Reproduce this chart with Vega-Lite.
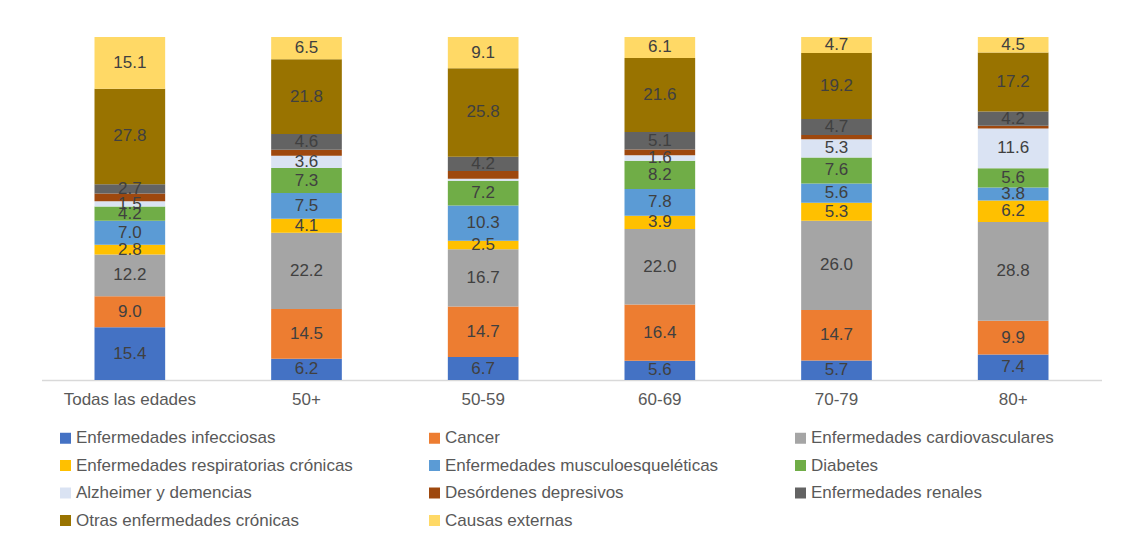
{
  "$schema": "https://vega.github.io/schema/vega-lite/v6.json",
  "width": 1060,
  "height": 343,
  "autosize": {"type": "none"},
  "padding": {"left": 41.5, "top": 37, "right": 31.5, "bottom": 173},
  "background": "white",
  "config": {"view": {"stroke": null}, "font": "Liberation Sans"},
  "data": {"values": [
    {"g": "Todas las edades", "s": "Enfermedades infecciosas", "v": 15.4},
    {"g": "Todas las edades", "s": "Cancer", "v": 9.0},
    {"g": "Todas las edades", "s": "Enfermedades cardiovasculares", "v": 12.2},
    {"g": "Todas las edades", "s": "Enfermedades respiratorias crónicas", "v": 2.8},
    {"g": "Todas las edades", "s": "Enfermedades musculoesqueléticas", "v": 7.0},
    {"g": "Todas las edades", "s": "Diabetes", "v": 4.2},
    {"g": "Todas las edades", "s": "Alzheimer y demencias", "v": 1.5},
    {"g": "Todas las edades", "s": "Desórdenes depresivos", "v": 2.3},
    {"g": "Todas las edades", "s": "Enfermedades renales", "v": 2.7},
    {"g": "Todas las edades", "s": "Otras enfermedades crónicas", "v": 27.8},
    {"g": "Todas las edades", "s": "Causas externas", "v": 15.1},
    {"g": "50+", "s": "Enfermedades infecciosas", "v": 6.2},
    {"g": "50+", "s": "Cancer", "v": 14.5},
    {"g": "50+", "s": "Enfermedades cardiovasculares", "v": 22.2},
    {"g": "50+", "s": "Enfermedades respiratorias crónicas", "v": 4.1},
    {"g": "50+", "s": "Enfermedades musculoesqueléticas", "v": 7.5},
    {"g": "50+", "s": "Diabetes", "v": 7.3},
    {"g": "50+", "s": "Alzheimer y demencias", "v": 3.6},
    {"g": "50+", "s": "Desórdenes depresivos", "v": 1.7},
    {"g": "50+", "s": "Enfermedades renales", "v": 4.6},
    {"g": "50+", "s": "Otras enfermedades crónicas", "v": 21.8},
    {"g": "50+", "s": "Causas externas", "v": 6.5},
    {"g": "50-59", "s": "Enfermedades infecciosas", "v": 6.7},
    {"g": "50-59", "s": "Cancer", "v": 14.7},
    {"g": "50-59", "s": "Enfermedades cardiovasculares", "v": 16.7},
    {"g": "50-59", "s": "Enfermedades respiratorias crónicas", "v": 2.5},
    {"g": "50-59", "s": "Enfermedades musculoesqueléticas", "v": 10.3},
    {"g": "50-59", "s": "Diabetes", "v": 7.2},
    {"g": "50-59", "s": "Alzheimer y demencias", "v": 0.6},
    {"g": "50-59", "s": "Desórdenes depresivos", "v": 2.2},
    {"g": "50-59", "s": "Enfermedades renales", "v": 4.2},
    {"g": "50-59", "s": "Otras enfermedades crónicas", "v": 25.8},
    {"g": "50-59", "s": "Causas externas", "v": 9.1},
    {"g": "60-69", "s": "Enfermedades infecciosas", "v": 5.6},
    {"g": "60-69", "s": "Cancer", "v": 16.4},
    {"g": "60-69", "s": "Enfermedades cardiovasculares", "v": 22.0},
    {"g": "60-69", "s": "Enfermedades respiratorias crónicas", "v": 3.9},
    {"g": "60-69", "s": "Enfermedades musculoesqueléticas", "v": 7.8},
    {"g": "60-69", "s": "Diabetes", "v": 8.2},
    {"g": "60-69", "s": "Alzheimer y demencias", "v": 1.6},
    {"g": "60-69", "s": "Desórdenes depresivos", "v": 1.7},
    {"g": "60-69", "s": "Enfermedades renales", "v": 5.1},
    {"g": "60-69", "s": "Otras enfermedades crónicas", "v": 21.6},
    {"g": "60-69", "s": "Causas externas", "v": 6.1},
    {"g": "70-79", "s": "Enfermedades infecciosas", "v": 5.7},
    {"g": "70-79", "s": "Cancer", "v": 14.7},
    {"g": "70-79", "s": "Enfermedades cardiovasculares", "v": 26.0},
    {"g": "70-79", "s": "Enfermedades respiratorias crónicas", "v": 5.3},
    {"g": "70-79", "s": "Enfermedades musculoesqueléticas", "v": 5.6},
    {"g": "70-79", "s": "Diabetes", "v": 7.6},
    {"g": "70-79", "s": "Alzheimer y demencias", "v": 5.3},
    {"g": "70-79", "s": "Desórdenes depresivos", "v": 1.2},
    {"g": "70-79", "s": "Enfermedades renales", "v": 4.7},
    {"g": "70-79", "s": "Otras enfermedades crónicas", "v": 19.2},
    {"g": "70-79", "s": "Causas externas", "v": 4.7},
    {"g": "80+", "s": "Enfermedades infecciosas", "v": 7.4},
    {"g": "80+", "s": "Cancer", "v": 9.9},
    {"g": "80+", "s": "Enfermedades cardiovasculares", "v": 28.8},
    {"g": "80+", "s": "Enfermedades respiratorias crónicas", "v": 6.2},
    {"g": "80+", "s": "Enfermedades musculoesqueléticas", "v": 3.8},
    {"g": "80+", "s": "Diabetes", "v": 5.6},
    {"g": "80+", "s": "Alzheimer y demencias", "v": 11.6},
    {"g": "80+", "s": "Desórdenes depresivos", "v": 0.8},
    {"g": "80+", "s": "Enfermedades renales", "v": 4.2},
    {"g": "80+", "s": "Otras enfermedades crónicas", "v": 17.2},
    {"g": "80+", "s": "Causas externas", "v": 4.5}
  ]},
  "transform": [
    {"calculate": "indexof(['Enfermedades infecciosas','Cancer','Enfermedades cardiovasculares','Enfermedades respiratorias crónicas','Enfermedades musculoesqueléticas','Diabetes','Alzheimer y demencias','Desórdenes depresivos','Enfermedades renales','Otras enfermedades crónicas','Causas externas'], datum.s)", "as": "k"},
    {"stack": "v", "groupby": ["g"], "sort": [{"field": "k", "order": "ascending"}], "as": ["v0", "v1"]},
    {"calculate": "(datum.v0 + datum.v1) / 2", "as": "mid"}
  ],
  "encoding": {
    "x": {
      "field": "g", "type": "nominal", "title": null,
      "sort": ["Todas las edades", "50+", "50-59", "60-69", "70-79", "80+"],
      "scale": {"paddingInner": 0.6, "paddingOuter": 0.3},
      "axis": {"labelAngle": 0, "labelFontSize": 17, "labelColor": "#595959", "ticks": false, "domainColor": "#D9D9D9", "domainWidth": 1.5, "labelPadding": 11.5, "labelFont": "Liberation Sans"}
    }
  },
  "layer": [
    {
      "mark": {"type": "bar"},
      "encoding": {
        "y": {"field": "v0", "type": "quantitative", "scale": {"domain": [0, 100]}, "axis": null},
        "y2": {"field": "v1"},
        "color": {
          "field": "s", "type": "nominal",
          "scale": {
            "domain": ["Enfermedades infecciosas", "Cancer", "Enfermedades cardiovasculares", "Enfermedades respiratorias crónicas", "Enfermedades musculoesqueléticas", "Diabetes", "Alzheimer y demencias", "Desórdenes depresivos", "Enfermedades renales", "Otras enfermedades crónicas", "Causas externas"],
            "range": ["#4472C4", "#ED7D31", "#A5A5A5", "#FFC000", "#5B9BD5", "#70AD47", "#DAE3F3", "#9E480E", "#636363", "#997300", "#FFD966"]
          },
          "legend": {
            "title": null, "orient": "none", "legendX": 15.5, "legendY": 392.5,
            "direction": "horizontal", "columns": 3, "gridAlign": "each",
            "columnPadding": 73, "rowPadding": 9.5,
            "symbolType": "square", "symbolSize": 121, "symbolStrokeWidth": 0,
            "labelFontSize": 17, "labelColor": "#595959", "labelOffset": 2, "labelLimit": 400,
            "labelFont": "Liberation Sans"
          }
        }
      }
    },
    {
      "transform": [{"filter": "datum.s != 'Desórdenes depresivos' && datum.v >= 1"}],
      "mark": {"type": "text", "fontSize": 17, "color": "#404040", "baseline": "middle", "font": "Liberation Sans"},
      "encoding": {
        "y": {"field": "mid", "type": "quantitative", "scale": {"domain": [0, 100]}},
        "text": {"field": "v", "type": "quantitative", "format": ".1f"}
      }
    }
  ]
}
